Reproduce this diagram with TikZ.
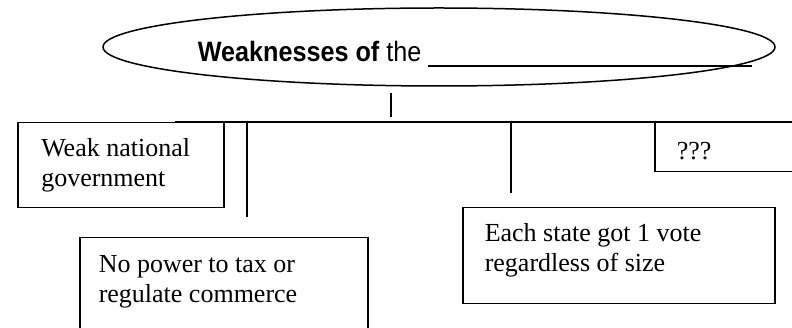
\documentclass[tikz,border=0pt]{standalone}
\usepackage{fontspec}
\setmainfont{Liberation Serif}
\newfontfamily\titlefont[FakeStretch=0.9]{Liberation Sans}
\usetikzlibrary{shapes.geometric}
\begin{document}
\begin{tikzpicture}[x=1pt,y=-1pt,line width=1.5pt,
  box/.style={draw, rectangle, anchor=north west, inner sep=0pt},
  txt/.style={anchor=base west, inner sep=0pt, align=left, font=\fontsize{26}{30.5}\selectfont},
  conn/.style={draw, line width=1.5pt}]
\useasboundingbox (0,0) rectangle (792,328);
\clip (0,0) rectangle (792,328);
% title
\node[draw, ellipse, minimum width=672pt, minimum height=78pt, inner sep=0pt] (ell) at (439,47) {};
\node[anchor=base west, inner sep=0pt, font=\titlefont\fontsize{28}{30}\selectfont] (title) at (197,62)
  {\bfseries Weaknesses of\mdseries{} the \rule[-4.6pt]{324pt}{1.6pt}};
% connectors
\coordinate (s1) at (391,93);
\coordinate (s2) at (391,117);
\draw[conn] (s1) -- (s2);
\coordinate (busL) at (175,122);
\coordinate (busR) at (792,122);
\draw[conn] (busL) -- (busR);
\coordinate (v1) at (247,217);
\coordinate (v2) at (511,193);
\draw[conn] (v1 |- busL) -- (v1);
\draw[conn] (v2 |- busL) -- (v2);
% boxes
\node[box, minimum width=206pt, minimum height=85pt] (boxA) at (17,122) {};
\node[txt] (textA) at (40.5,187) {Weak national\\government};
\node[box, minimum width=288pt, minimum height=120pt] (boxB) at (79,237) {};
\node[txt] (textB) at (98,303) {No power to tax or\\regulate commerce};
\node[box, minimum width=312pt, minimum height=96pt] (boxC) at (462,207) {};
\node[txt] (textC) at (484,272) {Each state got 1 vote\\regardless of size};
\node[box, minimum width=160pt, minimum height=49pt] (boxD) at (654,122) {};
\node[txt] (textD) at (676,160) {???};
\end{tikzpicture}
\end{document}
